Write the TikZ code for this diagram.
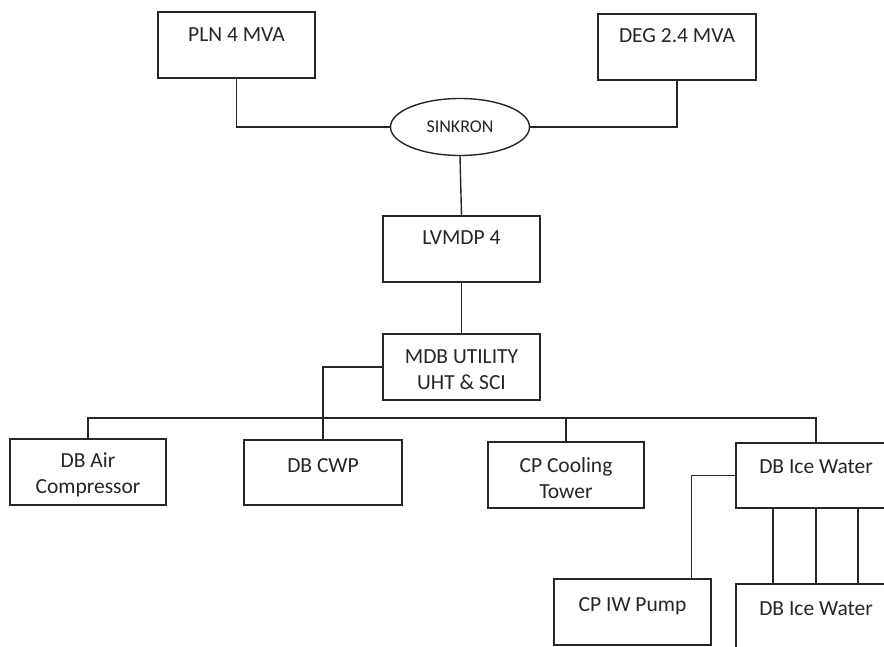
\documentclass[tikz,border=0pt]{standalone}
\usepackage{fontspec}
\setmainfont{Carlito}
\usetikzlibrary{shapes.geometric,calc}
\begin{document}
\begin{tikzpicture}[x=1pt,y=-1pt,
  wire/.style={draw=black!85,line width=1.4pt},
  box/.style={draw=black!85,line width=1.4pt,rectangle,inner sep=0pt},
  lbl/.style={inner sep=0pt,align=center,text=black!85,font=\fontsize{21.5}{26}\selectfont},
  slbl/.style={inner sep=0pt,text=black!85,font=\fontsize{18}{20}\selectfont},
]
\clip (0,0) rectangle (884,647);
\fill[white] (0,0) rectangle (884,647);
% boxes
\node[box,minimum width=157,minimum height=66] (pln) at (236.5,45) {};
\node[box,minimum width=158,minimum height=66] (deg) at (677,47) {};
\node[draw=black!85,line width=1.4pt,ellipse,minimum width=139,minimum height=57,inner sep=0pt] (sink) at (460,127) {};
\node[box,minimum width=157,minimum height=66] (lv) at (461.5,249) {};
\node[box,minimum width=157,minimum height=66] (mdb) at (461.5,367) {};
\node[box,minimum width=156,minimum height=66] (air) at (88,472) {};
\node[box,minimum width=158,minimum height=65] (cwp) at (323,472.5) {};
\node[box,minimum width=156,minimum height=66] (cool) at (566,475) {};
\node[box,minimum width=160,minimum height=65] (ice) at (816,475.5) {};
\node[box,minimum width=157,minimum height=66] (pump) at (632.5,612) {};
\node[box,minimum width=160,minimum height=66] (ice2) at (816,617) {};
% labels
\node[lbl] (tpln) at (236.5,35) {PLN 4 MVA};
\node[lbl] (tdeg) at (677,36) {DEG 2.4 MVA};
\node[slbl] (tsink) at (sink.center) {SINKRON};
\node[lbl] (tlv) at (461.5,238) {LVMDP 4};
\node[lbl] (tmdb) at (461.5,370) {MDB UTILITY\\UHT \& SCI};
\node[lbl] (tair) at (88,475) {DB Air\\Compressor};
\node[lbl] (tcwp) at (323,466) {DB CWP};
\node[lbl] (tcool) at (566,478.5) {CP Cooling\\Tower};
\node[lbl] (tice) at (816,467) {DB Ice Water};
\node[lbl] (tpump) at (632.5,606) {CP IW Pump};
\node[lbl] (tice2) at (816,609) {DB Ice Water};
% connectors
\draw[wire] (pln.south) |- (sink.west);
\draw[wire] (deg.south) |- (sink.east);
\draw[wire] (sink.south) -- (lv.north);
\draw[wire] (lv.south) -- (mdb.north);
\coordinate (busR) at (816,418);
\draw[wire] (mdb.west) -| (cwp.north);
\draw[wire] (air.north) |- (busR) -- (ice.north);
\draw[wire] (cool.north) -- (cool.north |- busR);
\draw[wire] (ice.west) -| ($(pump.north east)+(-20,0)$);
\draw[wire] ($(ice.south)+(-43,0)$) -- ($(ice2.north)+(-43,0)$);
\draw[wire] (ice.south) -- (ice2.north);
\draw[wire] ($(ice.south)+(42,0)$) -- ($(ice2.north)+(42,0)$);
\end{tikzpicture}
\end{document}
